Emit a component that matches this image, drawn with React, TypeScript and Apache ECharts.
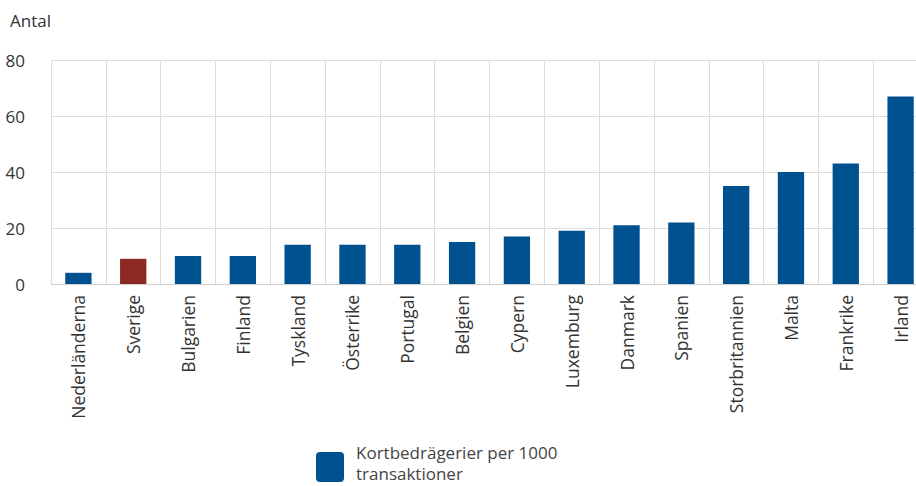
import React, { useEffect, useRef } from "react";
import * as echarts from "echarts";

const categories = [
  "Nederländerna", "Sverige", "Bulgarien", "Finland", "Tyskland", "Österrike",
  "Portugal", "Belgien", "Cypern", "Luxemburg", "Danmark", "Spanien",
  "Storbritannien", "Malta", "Frankrike", "Irland",
];
const values = [4, 9, 10, 10, 14, 14, 14, 15, 17, 19, 21, 22, 35, 40, 43, 67];
const highlight = "Sverige";
const yTicks = [0, 20, 40, 60, 80];
const legendLines = ["Kortbedrägerier per 1000", "transaktioner"];

const BLUE = "#00518f";
const RED = "#8b2922";
const FONT = "'Open Sans', 'Noto Sans', sans-serif";

export default function App() {
  const ref = useRef<HTMLDivElement>(null);
  useEffect(() => {
    if (!ref.current) return;
    document.body.style.overflow = "hidden";
    const chart = echarts.init(ref.current, null, { renderer: "svg" });
    chart.setOption({
      animation: false,
      backgroundColor: "#ffffff",
      textStyle: { fontFamily: FONT },
      graphic: [
        {
          type: "text",
          left: 10,
          top: 12,
          style: { text: "Antal", fontSize: 17, fill: "#333", fontFamily: FONT },
        },
        {
          type: "rect",
          left: 316,
          top: 452,
          shape: { width: 28, height: 30, r: 4 },
          style: { fill: BLUE },
        },
        ...legendLines.map((line, i) => ({
          type: "text",
          left: 356,
          top: 442 + i * 21,
          style: {
            text: line,
            fontSize: 17,
            lineHeight: 20,
            fill: "#444",
            fontFamily: FONT,
          },
        })),
      ],
      grid: { left: 51, top: 60, width: 877, bottom: 202, containLabel: false },
      xAxis: {
        type: "category",
        data: categories,
        axisLine: { show: true, lineStyle: { color: "#d0d0d0" } },
        axisTick: { show: false },
        splitLine: { show: true, interval: 0, lineStyle: { color: "#dcdcdc" } },
        axisLabel: {
          rotate: 90,
          interval: 0,
          margin: 11,
          fontSize: 17.5,
          color: "#333",
          fontFamily: FONT,
        },
      },
      yAxis: {
        type: "value",
        min: yTicks[0],
        max: yTicks[yTicks.length - 1],
        interval: 20,
        axisLine: { show: false },
        axisTick: { show: false },
        splitLine: { show: true, lineStyle: { color: "#dcdcdc" } },
        axisLabel: { fontSize: 17, color: "#333", margin: 26, fontFamily: FONT },
      },
      series: [
        {
          name: "Kortbedrägerier per 1000 transaktioner",
          type: "bar",
          barWidth: "48%",
          data: values.map((v, i) => ({
            value: v,
            itemStyle: { color: categories[i] === highlight ? RED : BLUE },
          })),
          itemStyle: { color: BLUE },
        },
      ],
    });
    return () => chart.dispose();
  }, []);
  return (
    <div
      ref={ref}
      style={{ width: 930, height: 486, position: "absolute", left: 0, top: 0 }}
    />
  );
}
